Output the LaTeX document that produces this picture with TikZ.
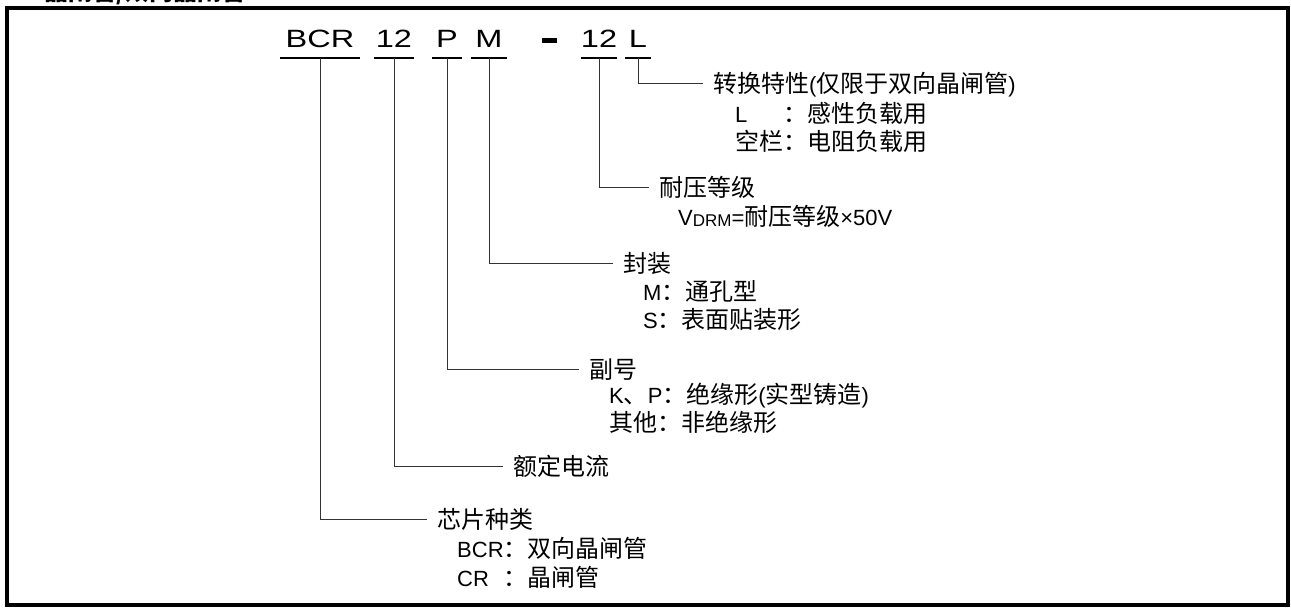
\documentclass[tikz,border=0pt]{standalone}
\usepackage{graphicx}
\usepackage{fontspec}
\setmainfont{Liberation Sans}
\newfontfamily\zhfont{Noto Sans CJK SC}[Scale=1.09]
\newcommand{\zh}[1]{{\zhfont #1}}
\newcommand{\codefont}{\fontsize{25pt}{30pt}\selectfont}
\newcommand{\labelfont}{\fontsize{22pt}{28pt}\selectfont}
\newcommand{\wide}[1]{\scalebox{1.3}[1]{#1}}

\tikzset{
  code/.style={font=\codefont, anchor=base, inner sep=0pt, text depth=10pt},
  head/.style={font=\labelfont, anchor=west, inner ysep=0pt, inner xsep=10pt,
    text height=20pt, text depth=2pt},
  item/.style={font=\labelfont, anchor=west, inner sep=0pt,
    text height=20pt, text depth=2pt},
  uline/.style={line width=1.4pt},
  branch/.style={line width=1pt, color=black!80},
  frame/.style={line width=4pt}
}

\begin{document}
\begin{tikzpicture}[x=1pt,y=-1pt]
\useasboundingbox (0,0) rectangle (1291,610);
\draw[frame] (7,8) rectangle (1288,605);
\node[anchor=base west, inner sep=0pt, font=\fontsize{22pt}{26pt}\selectfont\bfseries] (title) at (44,1) {\zh{晶闸管/双向晶闸管}};

% type code
\node[code, minimum width=80pt] (chip) at (320,48) {\wide{BCR}};
\node[code, minimum width=40pt] (amp) at (394,48) {\wide{12}};
\node[code, minimum width=29pt] (subno) at (447,48) {\wide{P}};
\node[code, minimum width=35pt] (pack) at (489,48) {\wide{M}};
\node[code] (sep) at (549,48) {\rule[5pt]{15pt}{4.5pt}};
\node[code, minimum width=28pt] (volt) at (599,48) {\wide{12}};
\node[code, minimum width=25pt] (turn) at (638,48) {\wide{L}};
\foreach \n in {chip,amp,subno,pack,volt,turn}
  \draw[uline] (\n.south west) -- (\n.south east);

% explanations
\node[head] (turnH) at (703,83.5) {\zh{转换特性}(\zh{仅限于双向晶闸管})};
\node[item] (turnA) at (735,113) {\rlap{L}\phantom{\zh{空栏}}\zh{：感性负载用}};
\node[item] (turnB) at (735,141) {\zh{空栏：电阻负载用}};

\node[head] (voltH) at (649,187.5) {\zh{耐压等级}};
\node[item] (voltA) at (678,216.5) {V\raisebox{-1pt}{\fontsize{17pt}{17pt}\selectfont DRM}=\zh{耐压等级}×50V};

\node[head] (packH) at (613,263) {\zh{封装}};
\node[item] (packA) at (643,291) {M\zh{：通孔型}};
\node[item] (packB) at (643,319) {S\zh{：表面贴装形}};

\node[head] (subnoH) at (579,369) {\zh{副号}};
\node[item] (subnoA) at (609,394) {K\zh{、}P\zh{：绝缘形}(\zh{实型铸造})};
\node[item] (subnoB) at (609,422) {\zh{其他：非绝缘形}};

\node[head] (ampH) at (503,466) {\zh{额定电流}};

\node[head] (chipH) at (427,519) {\zh{芯片种类}};
\node[item] (chipA) at (457,548) {BCR\zh{：双向晶闸管}};
\node[item] (chipB) at (457,577) {\rlap{CR}\phantom{BCR}\zh{：晶闸管}};

% branches
\foreach \n in {chip,amp,subno,pack,volt,turn}
  \draw[branch] (\n.south) |- (\n H.west);
\end{tikzpicture}
\end{document}
